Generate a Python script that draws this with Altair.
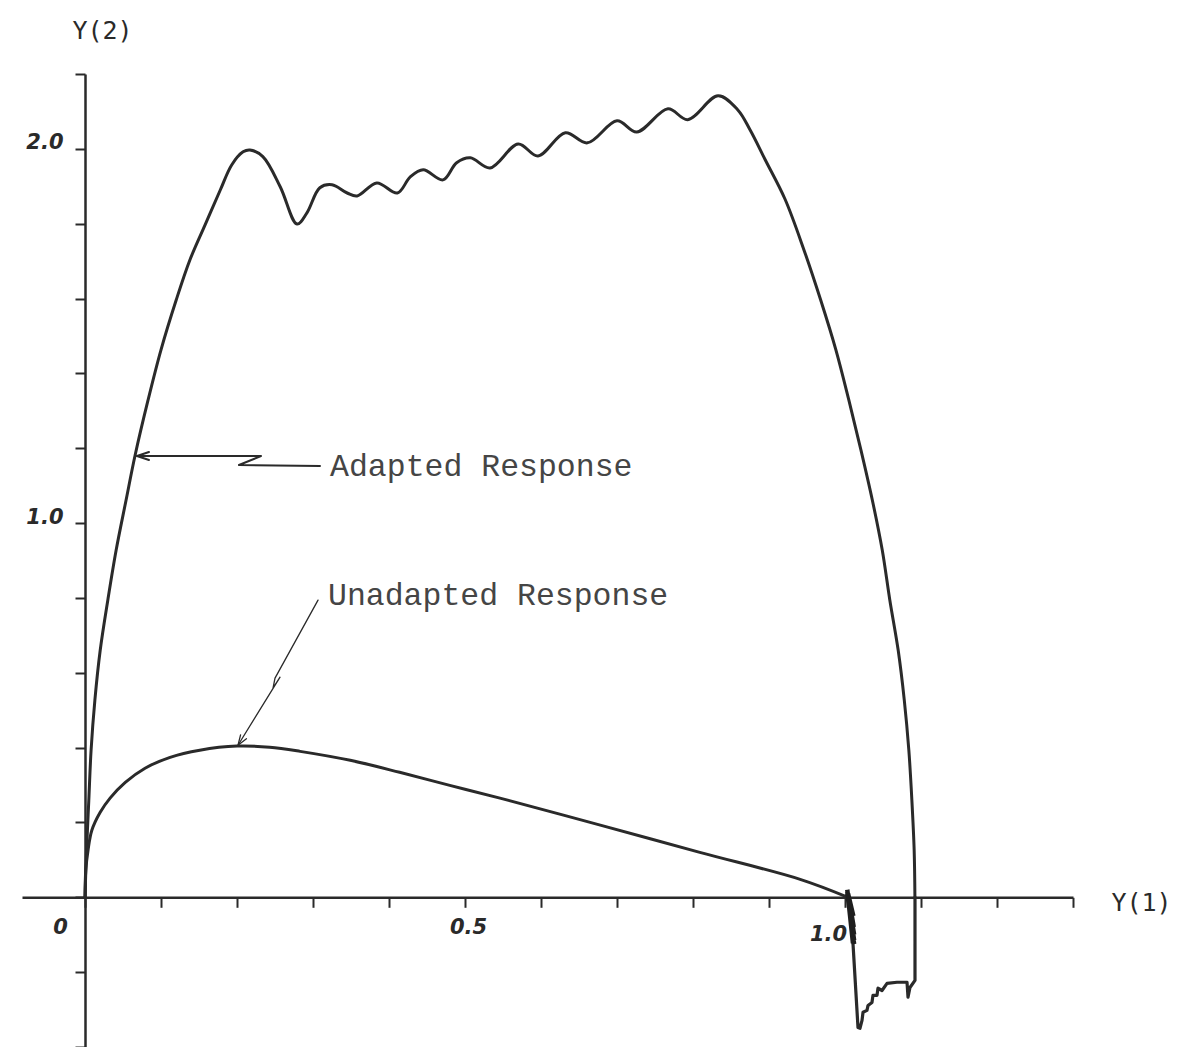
import altair as alt
import pandas as pd

INK = "#2a2a2a"

# ---------------- data ----------------
# Adapted response trajectory (Y(1), Y(2)) - smooth part
adapted_x = [0.000, 0.002, 0.005, 0.008, 0.013, 0.020, 0.030, 0.041, 0.054, 0.066,
             0.083, 0.100, 0.120, 0.138, 0.158, 0.178, 0.193, 0.208, 0.217, 0.234,
             0.257, 0.279, 0.292, 0.309, 0.325, 0.345, 0.358, 0.384, 0.411, 0.428,
             0.445, 0.471, 0.489, 0.507, 0.533, 0.570, 0.596, 0.632, 0.661, 0.700,
             0.726, 0.767, 0.793, 0.833, 0.859, 0.875, 0.895, 0.921, 0.946, 0.968,
             0.988, 1.005, 1.021, 1.036, 1.049, 1.059, 1.070, 1.078, 1.084, 1.088,
             1.091, 1.092]
adapted_y = [0.000, 0.126, 0.259, 0.393, 0.527, 0.660, 0.794, 0.928, 1.061, 1.182,
             1.329, 1.463, 1.596, 1.703, 1.797, 1.890, 1.957, 1.992, 1.997, 1.979,
             1.898, 1.799, 1.829, 1.896, 1.904, 1.882, 1.874, 1.909, 1.882, 1.925,
             1.944, 1.917, 1.963, 1.976, 1.949, 2.013, 1.981, 2.043, 2.016, 2.075,
             2.045, 2.107, 2.078, 2.142, 2.104, 2.051, 1.971, 1.866, 1.730, 1.596,
             1.463, 1.329, 1.195, 1.061, 0.928, 0.794, 0.660, 0.527, 0.393, 0.259,
             0.126, 0.000]

# Jagged part below the Y(1) axis near Y(1) = 1.0 .. 1.09
loop_x = [1.0921, 1.0921, 1.0855, 1.0829, 1.0816, 1.0684, 1.0553, 1.0487, 1.0434,
          1.0421, 1.0368, 1.0355, 1.0303, 1.0289, 1.0237, 1.0224, 1.0197, 1.0171,
          1.0105]
loop_y = [0.000, -0.222, -0.241, -0.267, -0.227, -0.227, -0.230, -0.249, -0.243,
          -0.262, -0.262, -0.281, -0.289, -0.302, -0.307, -0.329, -0.350, -0.348,
          -0.123]

# Dense back-and-forth strokes forming the dark block at Y(1) = 1.0
blob_x = [1.0105, 1.0030, 1.0120, 1.0030, 1.0120, 1.0030, 1.0120, 1.0035, 1.0115,
          1.0040, 1.0110, 1.0040]
blob_y = [-0.123, 0.020, -0.125, 0.010, -0.115, 0.015, -0.100, 0.005, -0.080,
          0.010, -0.050, 0.000]

# Unadapted response trajectory
unadapted_x = [0.000, 0.001, 0.004, 0.009, 0.020, 0.033, 0.053, 0.079, 0.112, 0.151,
               0.200, 0.243, 0.283, 0.349, 0.414, 0.480, 0.546, 0.678, 0.809, 0.941,
               1.004]
unadapted_y = [0.000, 0.072, 0.126, 0.179, 0.227, 0.265, 0.307, 0.345, 0.374, 0.393,
               0.404, 0.401, 0.390, 0.366, 0.334, 0.299, 0.265, 0.193, 0.120, 0.048,
               0.000]

# Annotation leader lines (with lightning-bolt breaks) and arrow heads
lead_adapted_x = [0.0684, 0.2316, 0.2026, 0.3092]
lead_adapted_y = [1.1791, 1.1791, 1.1551, 1.1524]
head_adapted_x = [0.0842, 0.0684, 0.0842]
head_adapted_y = [1.1898, 1.1791, 1.1684]

lead_unadapted_x = [0.3066, 0.2500, 0.2474, 0.2566, 0.2013]
lead_unadapted_y = [0.7941, 0.5856, 0.5588, 0.5882, 0.4064]
head_unadapted_x = [0.2124, 0.2013, 0.2047]
head_unadapted_y = [0.4238, 0.4064, 0.4340]

note_text = ["Adapted Response", "Unadapted Response"]
note_x = [0.3224, 0.3197]
note_y = [1.126, 0.781]

# Axes
x_ticks = [0, 0.1, 0.2, 0.3, 0.4, 0.5, 0.6, 0.7, 0.8, 0.9, 1.0, 1.1, 1.2, 1.3]
y_ticks = [-0.4, -0.2, 0, 0.2, 0.4, 0.6, 0.8, 1.0, 1.2, 1.4, 1.6, 1.8, 2.0, 2.2]
x_label_values = [0, 0.5, 1.0]
x_label_texts = ["0", "0.5", "1.0"]
y_label_values = [1.0, 2.0]
y_label_texts = ["1.0", "2.0"]
x_domain = [-0.0829, 1.3]
y_domain = [-0.4, 2.2]


def label_expr(values, texts):
    expr = "''"
    for v, t in zip(reversed(values), reversed(texts)):
        expr = f"(abs(datum.value - ({v})) < 1e-9 ? '{t}' : {expr})"
    return expr


def path_df(xs, ys, name):
    return pd.DataFrame({"x": xs, "y": ys, "i": list(range(len(xs))), "name": name})


curves = pd.concat([path_df(adapted_x, adapted_y, "adapted"),
                    path_df(unadapted_x, unadapted_y, "unadapted")])
loop = path_df(loop_x, loop_y, "loop")
blob = path_df(blob_x, blob_y, "blob")
lead_thick = pd.concat([path_df(lead_adapted_x, lead_adapted_y, "lead"),
                        path_df(head_adapted_x, head_adapted_y, "head")])
lead_thin = pd.concat([path_df(lead_unadapted_x, lead_unadapted_y, "lead"),
                       path_df(head_unadapted_x, head_unadapted_y, "head")])
notes = pd.DataFrame({"x": note_x, "y": note_y, "label": note_text})

x_axis = alt.Axis(
    values=x_ticks, orient="bottom", offset=-149.7, grid=False,
    domainColor=INK, domainWidth=2.5, tickColor=INK, tickWidth=2, tickSize=10,
    labelExpr=label_expr(x_label_values, x_label_texts),
    labelFont="DejaVu Sans", labelFontWeight="bold", labelFontStyle="italic",
    labelFontSize=21, labelColor=INK, labelBaseline="top", labelOverlap=False,
    labelAlign="center",
    labelOffset={"condition": [{"test": "datum.value == 0", "value": -25},
                               {"test": "datum.value == 1", "value": -17}],
                 "value": 3},
    labelPadding={"condition": {"test": "datum.value == 1", "value": 16}, "value": 9},
    title="Y(1)", titleAngle=0, titleX=1119, titleY=5, titleAlign="center",
    titleBaseline="middle", titleFont="DejaVu Sans Mono", titleFontSize=25,
    titleFontWeight="normal", titleColor=INK,
)

y_axis = alt.Axis(
    values=y_ticks, orient="left", offset=-63, grid=False,
    domainColor=INK, domainWidth=2.5, tickColor=INK, tickWidth=2, tickSize=10,
    labelExpr=label_expr(y_label_values, y_label_texts),
    labelFont="DejaVu Sans", labelFontWeight="bold", labelFontStyle="italic",
    labelFontSize=21, labelColor=INK, labelAlign="right", labelBaseline="middle",
    labelOffset=-6, labelPadding=12, labelOverlap=False,
    title="Y(2)", titleAngle=0, titleX=17, titleY=-44, titleAlign="center",
    titleBaseline="middle", titleFont="DejaVu Sans Mono", titleFontSize=25,
    titleFontWeight="normal", titleColor=INK,
)

x_enc = alt.X("x:Q", scale=alt.Scale(domain=x_domain, nice=False, zero=False), axis=x_axis)
y_enc = alt.Y("y:Q", scale=alt.Scale(domain=y_domain, nice=False, zero=False), axis=y_axis)

smooth = alt.Chart(curves).mark_line(
    interpolate="catmull-rom", strokeWidth=3, color=INK, strokeCap="round", strokeJoin="round"
).encode(x=x_enc, y=y_enc, order="i:Q", detail="name:N")

jagged = alt.Chart(loop).mark_line(
    interpolate="linear", strokeWidth=3.2, color=INK, strokeCap="round", strokeJoin="round"
).encode(x=x_enc, y=y_enc, order="i:Q", detail="name:N")

block = alt.Chart(blob).mark_line(
    interpolate="linear", strokeWidth=4.5, color="#1e1e1e", strokeCap="butt", strokeJoin="miter"
).encode(x=x_enc, y=y_enc, order="i:Q", detail="name:N")

leader1 = alt.Chart(lead_thick).mark_line(
    interpolate="linear", strokeWidth=2, color=INK, strokeCap="round", strokeJoin="round"
).encode(x=x_enc, y=y_enc, order="i:Q", detail="name:N")

leader2 = alt.Chart(lead_thin).mark_line(
    interpolate="linear", strokeWidth=1.3, color=INK, strokeCap="round", strokeJoin="round"
).encode(x=x_enc, y=y_enc, order="i:Q", detail="name:N")

texts = alt.Chart(notes).mark_text(
    align="left", baseline="alphabetic", font="Liberation Mono", fontSize=31.5, color="#454545"
).encode(x=x_enc, y=y_enc, text="label:N")

chart = alt.layer(smooth, jagged, block, leader1, leader2, texts).properties(
    width=1051, height=973,
    padding={"left": 22, "top": 74, "right": 114, "bottom": 0},
    autosize=alt.AutoSizeParams(type="none"),
    background="white",
).configure_view(stroke=None)

chart.save("out.html", embed_options={"renderer": "svg", "actions": False})
